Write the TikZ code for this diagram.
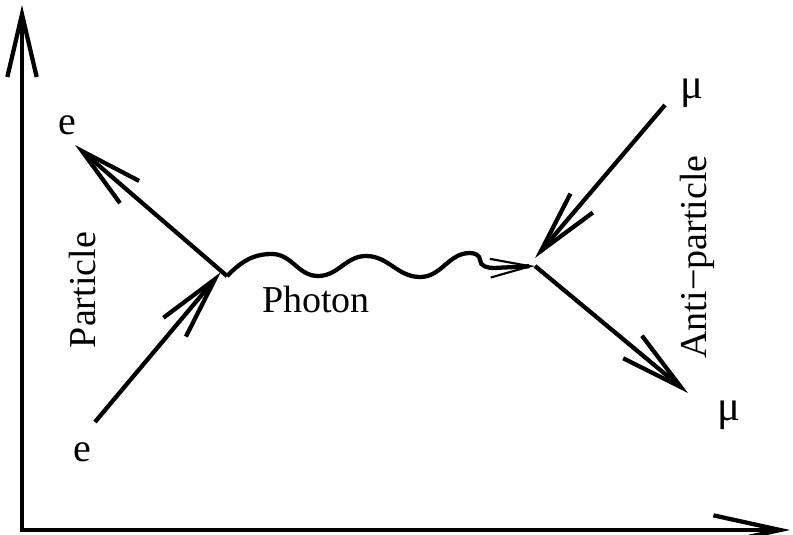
\documentclass[tikz,border=0pt]{standalone}
\usepackage{fontspec}
\setmainfont{Liberation Serif}
\usetikzlibrary{arrows.meta}
\begin{document}
\begin{tikzpicture}[x=0.75pt,y=0.75pt,
  line/.style={line width=3.2pt},
  barbtip/.style={-{Straight Barb[length=47pt,width=22pt]}},
  lbl/.style={inner sep=0pt,outer sep=0pt,font=\fontsize{28.5}{30}\selectfont},
  mu/.style={inner sep=0pt,outer sep=0pt,font=\fontsize{32}{34}\selectfont}]
\useasboundingbox (0,0) rectangle (793,-535);
% axes
\coordinate (O) at (22,-530);
\coordinate (Y) at (22,-5);
\coordinate (X) at (790,-530);
\draw[line, line join=miter, {Straight Barb[length=47pt,width=22pt]}-{Straight Barb[length=50pt,width=22pt]}] (Y) -- (O) -- (X);
% vertices and ends
\coordinate (V1) at (227,-276);
\coordinate (v1in) at (221,-272);
\coordinate (V2) at (535,-266);
\coordinate (v2in) at (535,-258);
\coordinate (A) at (95,-422);
\coordinate (B) at (75,-145);
\coordinate (C) at (665,-105);
\coordinate (D) at (688,-393);
% fermion lines
\draw[line, barbtip] (A) -- (v1in);
\draw[line, barbtip] (V1) -- (B);
\draw[line, barbtip] (C) -- (v2in);
\draw[line, barbtip] (V2) -- (D);
% photon
\draw[line, -{Straight Barb[length=30pt,width=14pt,line width=1.6pt]}]
  (V1) to[out=45,in=180] (272,-254) to[out=0,in=180] (318,-276)
  to[out=0,in=180] (366,-256) to[out=0,in=180] (420,-277)
  to[out=0,in=180] (470,-253) to[out=0,in=90] (480,-260)
  to[out=-90,in=180] (494,-268) -- (V2);
% labels
\node[lbl, font=\fontsize{30}{32}\selectfont] (eout) at (67,-125) {e};
\node[lbl, font=\fontsize{30}{32}\selectfont] (ein) at (82,-452) {e};
\node[mu] (muin) at (692,-93) {μ};
\node[mu] (muout) at (729,-415) {μ};
\node[lbl, rotate=90] (particle) at (83,-290) {Particle};
\node[lbl, rotate=90] (anti) at (697,-257) {Anti−particle};
\node[lbl, anchor=base] (photon) at (316,-312) {Photon};
\end{tikzpicture}
\end{document}
